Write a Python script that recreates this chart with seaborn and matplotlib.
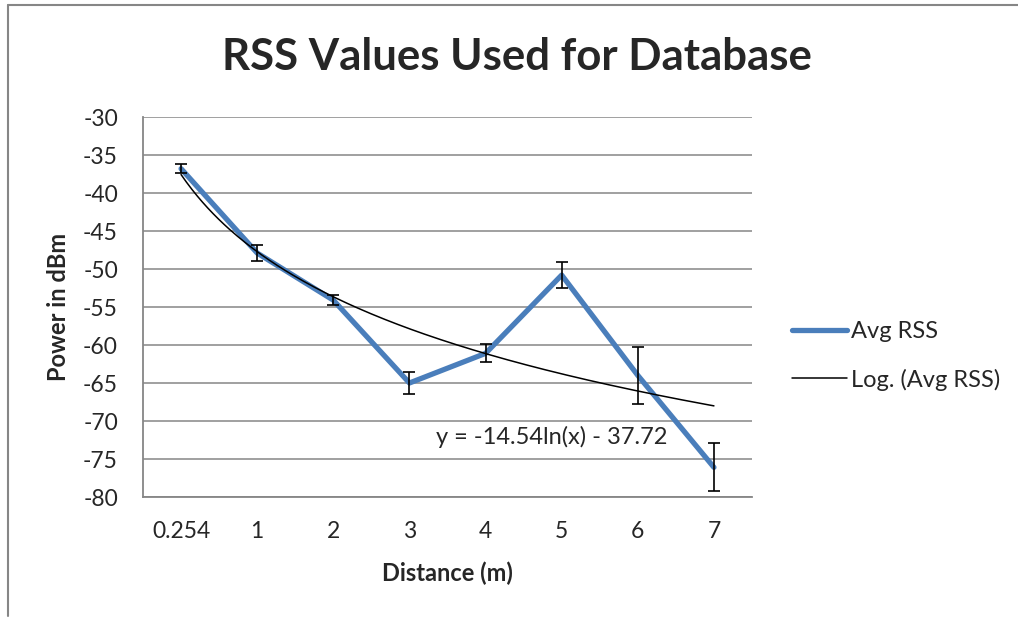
import matplotlib
matplotlib.use('Agg')
import matplotlib.pyplot as plt
import seaborn as sns
import numpy as np
import pandas as pd
from matplotlib.lines import Line2D

# data
distances = ['0.254', '1', '2', '3', '4', '5', '6', '7']
avg_rss = [-36.8, -47.9, -54.1, -65.0, -61.1, -50.8, -64.0, -76.1]
rss_err = [0.6, 1.1, 0.7, 1.5, 1.2, 1.75, 3.75, 3.15]
y_ticks = [-30, -35, -40, -45, -50, -55, -60, -65, -70, -75, -80]
trend_label = 'y = -14.54ln(x) - 37.72'

blue = '#4A7EBB'
grid_gray = '#868686'

sns.set_theme(style='white')
plt.rcParams['font.family'] = ['Lato', 'DejaVu Sans']

df = pd.DataFrame({'pos': np.arange(len(distances)), 'rss': avg_rss})

# Excel style log trendline: fit against category number 1..n
slope, intercept = np.polyfit(np.log(df['pos'] + 1), df['rss'], 1)
xs = np.linspace(1, len(distances), 200)
trend = pd.DataFrame({'pos': xs - 1, 'rss': slope * np.log(xs) + intercept})

fig = plt.figure(figsize=(10.18, 6.18), dpi=100)
ax = fig.add_axes([143/1018, 1 - 497/618, (752 - 143)/1018, (497 - 117)/618])

sns.lineplot(data=df, x='pos', y='rss', ax=ax, color=blue, linewidth=3.8,
             solid_capstyle='round', zorder=3)
ax.errorbar(df['pos'], df['rss'], yerr=rss_err, fmt='none', ecolor='black',
            elinewidth=1.2, capsize=4.3, capthick=1.2, zorder=4)
sns.lineplot(data=trend, x='pos', y='rss', ax=ax, color='black', linewidth=1.1,
             zorder=5)

ax.set_xlim(-0.5, len(distances) - 0.5)
ax.set_ylim(-80, -30)
ax.set_yticks(y_ticks)
ax.set_yticklabels([str(t) for t in y_ticks], fontsize=16.5)
ax.set_xticks(df['pos'])
ax.set_xticklabels(distances, fontsize=16.5)
ax.tick_params(axis='both', length=0)
ax.tick_params(axis='x', pad=17)
ax.tick_params(axis='y', pad=18)

ax.grid(True, axis='y', color=grid_gray, linewidth=1.1)
ax.set_axisbelow(True)
for s in ['top', 'right']:
    ax.spines[s].set_visible(False)
for s in ['left', 'bottom']:
    ax.spines[s].set_color(grid_gray)
    ax.spines[s].set_linewidth(1.3)

ax.set_xlabel('Distance (m)', fontsize=17, fontweight='bold', labelpad=14)
ax.set_ylabel('Power in dBm', fontsize=17, fontweight='bold', labelpad=9)

ax.text(4.87, -72.1, trend_label, fontsize=17, ha='center', va='center')

fig.text(517/1018, 1 - 57/618, 'RSS Values Used for Database', fontsize=31.5,
         fontweight='bold', ha='center', va='center')

handles = [Line2D([], [], color=blue, linewidth=3.8, solid_capstyle='round'),
           Line2D([], [], color='black', linewidth=1.1)]
fig.legend(handles, ['Avg RSS', 'Log. (Avg RSS)'], loc='center left',
           bbox_to_anchor=(771/1018, 1 - 356/618), frameon=False, fontsize=17,
           handlelength=2.33, handletextpad=0.15, labelspacing=1.1)

# chart border (left and top edges visible in the reference)
fig.add_artist(Line2D([8/1018, 8/1018], [0.003, 1 - 5/618],
                      transform=fig.transFigure, color=grid_gray, linewidth=1.5))
fig.add_artist(Line2D([8/1018, 1.0], [1 - 5/618, 1 - 5/618],
                      transform=fig.transFigure, color=grid_gray, linewidth=1.5))

fig.savefig('out.png', dpi=100)
plt.close(fig)
